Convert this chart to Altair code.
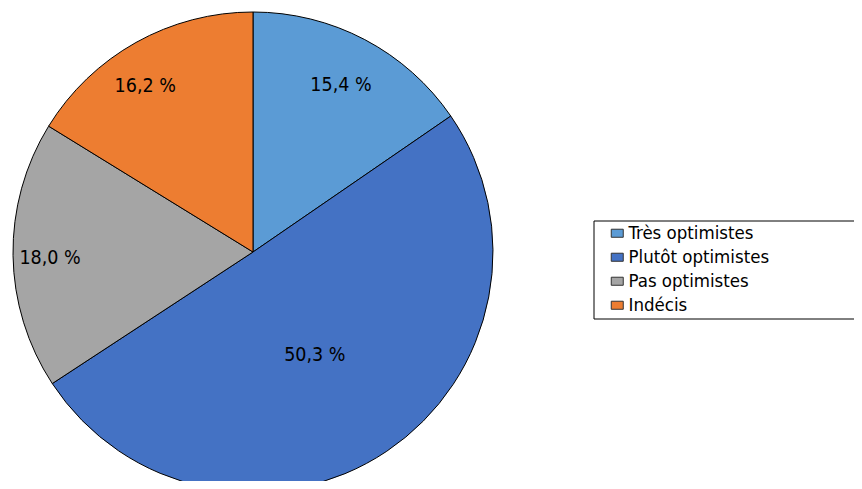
import altair as alt
import pandas as pd

categories = ["Très optimistes", "Plutôt optimistes", "Pas optimistes", "Indécis"]
values = [15.4, 50.3, 18.0, 16.2]
labels = ["15,4 %", "50,3 %", "18,0 %", "16,2 %"]
colors = ["#5B9BD5", "#4472C4", "#A5A5A5", "#ED7D31"]

df = pd.DataFrame({
    "cat": categories,
    "val": values,
    "label": labels,
    "idx": list(range(len(categories))),
})

FONT = "Liberation Sans Narrow, DejaVu Sans Condensed, Roboto, sans-serif"
CX, CY = 245, 244

base = alt.Chart(df).encode(
    theta=alt.Theta("val:Q", stack=True),
    order=alt.Order("idx:Q"),
    x=alt.value(CX),
    y=alt.value(CY),
)

pie = base.mark_arc(outerRadius=240, stroke="black", strokeWidth=1).encode(
    color=alt.Color(
        "cat:N",
        scale=alt.Scale(domain=categories, range=colors),
        sort=categories,
        legend=alt.Legend(
            orient="none",
            legendX=600,
            legendY=216,
            title=None,
            labelFont=FONT,
            labelFontSize=18.5,
            labelColor="black",
            symbolType="M-1,-0.67L1,-0.67L1,0.67L-1,0.67Z",
            symbolSize=144,
            symbolStrokeColor="#333333",
            symbolStrokeWidth=1,
            rowPadding=5,
            labelOffset=2,
            padding=0,
        ),
    )
)


def label_layer(i, radius, theta_offset=0.0):
    return base.mark_text(
        radius=radius,
        thetaOffset=theta_offset,
        font=FONT,
        fontSize=19.5,
        color="black",
        align="center",
        baseline="middle",
    ).encode(
        text="label:N",
        opacity=alt.condition(alt.datum.idx == i, alt.value(1), alt.value(0)),
    )


texts = [
    label_layer(0, 189),
    label_layer(1, 120, 0.05),
    label_layer(2, 203, -0.015),
    label_layer(3, 198, -0.066),
]

frame = alt.Chart(pd.DataFrame({"a": [0]})).mark_rect(
    fillOpacity=0, stroke="black", strokeWidth=1
).encode(x=alt.value(586), x2=alt.value(900), y=alt.value(213), y2=alt.value(311))

chart = alt.layer(pie, *texts, frame).properties(
    width=846,
    height=473,
    autosize=alt.AutoSizeParams(type="none"),
    padding=0,
    background="white",
).configure_view(stroke=None)

chart.save("out.html", embed_options={"renderer": "svg", "actions": False})
